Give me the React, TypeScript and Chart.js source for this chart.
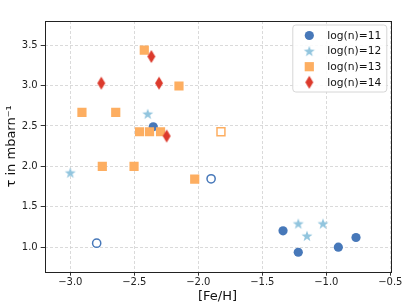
import React, { useEffect, useRef } from "react";
import { Chart, registerables } from "chart.js";
Chart.register(...registerables);

const FONT = "'DejaVu Sans', sans-serif";

// ---- data ----
const xTicks = [-3.0, -2.5, -2.0, -1.5, -1.0, -0.5];
const yTicks = [1.0, 1.5, 2.0, 2.5, 3.0, 3.5];

const n11X = [-2.352, -1.338, -1.219, -0.906, -0.768];
const n11Y = [2.49, 1.2, 0.935, 0.998, 1.118];
const n11OpenX = [-2.794, -1.9];
const n11OpenY = [1.047, 1.845];

const n12X = [-2.395, -3.0, -1.219, -1.026, -1.151];
const n12Y = [2.65, 1.92, 1.29, 1.29, 1.138];

const n13X = [-2.422, -2.151, -2.909, -2.645, -2.459, -2.381, -2.295, -2.75, -2.502, -2.028];
const n13Y = [3.438, 2.995, 2.668, 2.668, 2.428, 2.428, 2.428, 2.0, 2.0, 1.84];
const n13OpenX = [-1.823];
const n13OpenY = [2.428];

const n14X = [-2.367, -2.758, -2.307, -2.247];
const n14Y = [3.36, 3.03, 3.03, 2.375];

const legendLabels = ["log(n)=11", "log(n)=12", "log(n)=13", "log(n)=14"];

const C_BLUE = "#4778b9";
const C_LBLUE = "#92c5de";
const C_ORANGE = "#fdae61";
const C_RED = "#dc3a2c";

const pts = (xs: number[], ys: number[]) => xs.map((x, i) => ({ x, y: ys[i] }));

function makeStar(color: string, outer: number) {
  const s = Math.ceil(outer * 2) + 2;
  const c = document.createElement("canvas");
  c.width = s;
  c.height = s;
  const ctx = c.getContext("2d")!;
  const cx = s / 2, cy = s / 2 + 0.5;
  const inner = outer * 0.4;
  ctx.beginPath();
  for (let i = 0; i < 10; i++) {
    const r = i % 2 === 0 ? outer : inner;
    const a = -Math.PI / 2 + (i * Math.PI) / 5;
    const px = cx + r * Math.cos(a), py = cy + r * Math.sin(a);
    if (i === 0) ctx.moveTo(px, py);
    else ctx.lineTo(px, py);
  }
  ctx.closePath();
  ctx.fillStyle = color;
  ctx.fill();
  return c;
}

function makeDiamond(color: string, w: number, h: number) {
  const cw = Math.ceil(w) + 2, ch = Math.ceil(h) + 2;
  const c = document.createElement("canvas");
  c.width = cw;
  c.height = ch;
  const ctx = c.getContext("2d")!;
  const cx = cw / 2, cy = ch / 2;
  ctx.beginPath();
  ctx.moveTo(cx, cy - h / 2);
  ctx.lineTo(cx + w / 2, cy);
  ctx.lineTo(cx, cy + h / 2);
  ctx.lineTo(cx - w / 2, cy);
  ctx.closePath();
  ctx.fillStyle = color;
  ctx.fill();
  return c;
}

export default function App() {
  const ref = useRef<HTMLCanvasElement>(null);

  useEffect(() => {
    document.body.style.margin = "0";
    const star = makeStar(C_LBLUE, 5.8);
    const diamond = makeDiamond(C_RED, 8, 13);

    const framePlugin = {
      id: "frameLegend",
      afterDraw(chart: any) {
        const { ctx, chartArea } = chart;
        ctx.save();
        ctx.strokeStyle = "#222";
        ctx.lineWidth = 1;
        ctx.strokeRect(
          Math.round(chartArea.left) + 0.5,
          Math.round(chartArea.top) + 0.5,
          Math.round(chartArea.right - chartArea.left),
          Math.round(chartArea.bottom - chartArea.top)
        );
        // legend
        const bw = 94, bh = 67;
        const bx = chartArea.right - 3.5 - bw;
        const by = chartArea.top + 4;
        const r = 3;
        ctx.beginPath();
        ctx.moveTo(bx + r, by);
        ctx.arcTo(bx + bw, by, bx + bw, by + bh, r);
        ctx.arcTo(bx + bw, by + bh, bx, by + bh, r);
        ctx.arcTo(bx, by + bh, bx, by, r);
        ctx.arcTo(bx, by, bx + bw, by, r);
        ctx.closePath();
        ctx.fillStyle = "rgba(255,255,255,0.85)";
        ctx.fill();
        ctx.strokeStyle = "#d6d6d6";
        ctx.stroke();
        const mx = bx + 16.5;
        const tx = bx + 34.5;
        ctx.font = `10.7px ${FONT}`;
        ctx.textBaseline = "middle";
        ctx.fillStyle = "#111";
        legendLabels.forEach((lab, i) => {
          const y = by + 10.5 + i * 15.6;
          if (i === 0) {
            ctx.beginPath();
            ctx.arc(mx, y, 4.6, 0, Math.PI * 2);
            ctx.fillStyle = C_BLUE;
            ctx.fill();
          } else if (i === 1) {
            ctx.drawImage(star, mx - star.width / 2, y - star.height / 2);
          } else if (i === 2) {
            ctx.fillStyle = C_ORANGE;
            ctx.fillRect(mx - 4.6, y - 4.6, 9.2, 9.2);
          } else {
            ctx.drawImage(diamond, mx - diamond.width / 2, y - diamond.height / 2);
          }
          ctx.fillStyle = "#111";
          ctx.fillText(lab, tx, y + 0.5);
        });
        ctx.restore();
      },
    };

    const fmt = (v: number) => (v < 0 ? "\u2212" : "") + Math.abs(v).toFixed(1);

    const gridOpts = {
      color: "#d0d0d0",
      tickColor: "#333",
      tickBorderDash: [],
      tickLength: 4,
      lineWidth: 0.8,
      tickWidth: 1,
    };

    const chart = new Chart(ref.current!, {
      type: "scatter",
      data: {
        datasets: [
          {
            label: legendLabels[0],
            data: pts(n11X, n11Y),
            pointStyle: "circle",
            pointRadius: 4.6,
            pointBackgroundColor: C_BLUE,
            pointBorderWidth: 0,
            order: 5,
          },
          {
            label: "open11",
            data: pts(n11OpenX, n11OpenY),
            pointStyle: "circle",
            pointRadius: 4.1,
            pointBackgroundColor: "#ffffff",
            pointBorderColor: C_BLUE,
            pointBorderWidth: 1.5,
            order: 6,
          },
          {
            label: legendLabels[1],
            data: pts(n12X, n12Y),
            pointStyle: star,
            order: 4,
          },
          {
            label: legendLabels[2],
            data: pts(n13X, n13Y),
            pointStyle: "rect",
            pointRadius: 6.5,
            pointBackgroundColor: C_ORANGE,
            pointBorderWidth: 0,
            order: 2,
          },
          {
            label: "open13",
            data: pts(n13OpenX, n13OpenY),
            pointStyle: "rect",
            pointRadius: 5.6,
            pointBackgroundColor: "#ffffff",
            pointBorderColor: C_ORANGE,
            pointBorderWidth: 1.5,
            order: 3,
          },
          {
            label: legendLabels[3],
            data: pts(n14X, n14Y),
            pointStyle: diamond,
            order: 1,
          },
        ],
      },
      options: {
        animation: false,
        responsive: false,
        events: [],
        layout: { padding: { top: 21, right: 16.7, left: 0, bottom: 0 } },
        plugins: { legend: { display: false }, tooltip: { enabled: false } },
        scales: {
          x: {
            type: "linear",
            min: -3.2,
            max: -0.5,
            afterBuildTicks: (s: any) => {
              s.ticks = xTicks.map((v) => ({ value: v }));
            },
            afterFit: (s: any) => {
              s.height = 33.3;
            },
            border: { display: false, dash: [3, 2] },
            grid: gridOpts,
            ticks: {
              padding: 1,
              color: "#222",
              font: { family: FONT, size: 10 },
              callback: (v: any) => fmt(Number(v)),
              maxRotation: 0,
              autoSkip: false,
            },
            title: {
              display: true,
              text: "[Fe/H]",
              color: "#111",
              font: { family: FONT, size: 13 },
              padding: { top: 0, bottom: 1 },
            },
          },
          y: {
            type: "linear",
            min: 0.694,
            max: 3.8,
            afterBuildTicks: (s: any) => {
              s.ticks = yTicks.map((v) => ({ value: v }));
            },
            afterFit: (s: any) => {
              s.width = 44.7;
            },
            border: { display: false, dash: [3, 2] },
            grid: gridOpts,
            ticks: {
              padding: 3,
              color: "#222",
              font: { family: FONT, size: 10 },
              callback: (v: any) => fmt(Number(v)),
              autoSkip: false,
            },
            title: {
              display: true,
              text: "\u03C4 in mbarn\u207B\u00B9",
              color: "#111",
              font: { family: FONT, size: 13 },
              padding: { top: 4, bottom: 0 },
            },
          },
        },
      },
      plugins: [framePlugin],
    } as any);
    return () => chart.destroy();
  }, []);

  return (
    <div style={{ width: 407, height: 305 }}>
      <canvas ref={ref} width={407} height={305} style={{ display: "block" }} />
    </div>
  );
}
